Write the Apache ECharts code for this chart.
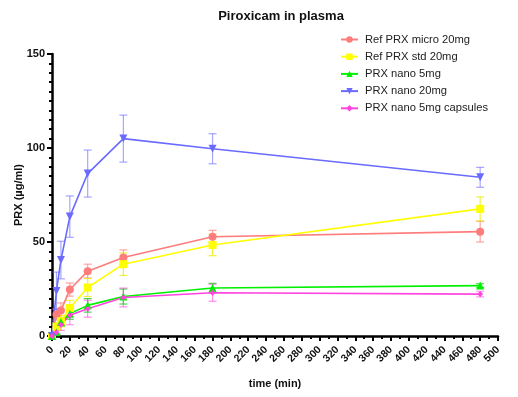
<!DOCTYPE html>
<html><head><meta charset="utf-8">
<script src="https://cdn.jsdelivr.net/npm/echarts@6/dist/echarts.min.js"></script>
<style>html,body{margin:0;padding:0;background:#fff}#c{width:518px;height:397px}</style>
</head><body><div id="c"></div>
<script>
var time = [0, 5, 10, 20, 40, 80, 180, 480];
var seriesNames = ['Ref PRX micro 20mg', 'Ref PRX std 20mg', 'PRX nano 5mg', 'PRX nano 20mg', 'PRX nano 5mg capsules'];
var microMean = [0, 11.5, 13.6, 24.7, 34.5, 41.8, 52.8, 55.5];
var microSd   = [0, 3, 4, 3.5, 3.7, 4, 3.4, 5.5];
var stdMean   = [0, 5, 7.9, 14.9, 25.8, 38.2, 48.4, 67.6];
var stdSd     = [0, 2, 3, 4, 4.8, 6, 5.7, 6.4];
var nano5Mean = [0, 2, 7.4, 11.9, 16.3, 21, 25.5, 26.8];
var nano5Sd   = [0, 1, 2, 3, 3.6, 4, 2.5, 1];
var nano20Mean = [0, 24, 40.4, 63.5, 86.4, 105, 99.6, 84.4];
var nano20Sd   = [0, 10, 10, 11, 12.5, 12.5, 8, 5.3];
var capsMean  = [0, 2, 6, 11, 14.5, 20.5, 23, 22.3];
var capsSd    = [0, 1, 3, 5, 4.5, 5, 4.5, 1.5];

var means = [microMean, stdMean, nano5Mean, nano20Mean, capsMean];
var sds = [microSd, stdSd, nano5Sd, nano20Sd, capsSd];
var colors = ['#FF7C7C', '#FFFF00', '#00F000', '#6A6AFF', '#FF44E0'];
var errColors = ['rgba(255,124,124,0.7)', 'rgba(235,235,0,0.75)', 'rgba(0,200,0,0.7)', 'rgba(106,106,255,0.6)', 'rgba(255,68,224,0.6)'];
var symbols = ['circle', 'rect', 'triangle', 'triangle', 'diamond'];
var symRot = [0, 0, 0, 180, 0];
var symSizes = [8, 8, 8, 8, 6];

var font = 'Liberation Sans, Arial, sans-serif';
var series = [];
for (var i = 0; i < 5; i++) {
  (function (i) {
    var data = time.map(function (t, k) { return [t, means[i][k], sds[i][k]]; });
    series.push({
      type: 'custom', name: 'err' + i, z: 2,
      renderItem: function (params, api) {
        var x = api.value(0), m = api.value(1), s = api.value(2);
        if (!s) return null;
        var top = api.coord([x, m + s]), bot = api.coord([x, m - s]);
        var w = 4;
        var st = { stroke: errColors[i], lineWidth: 1.2 };
        return { type: 'group', children: [
          { type: 'line', shape: { x1: top[0], y1: top[1], x2: bot[0], y2: bot[1] }, style: st },
          { type: 'line', shape: { x1: top[0] - w, y1: top[1], x2: top[0] + w, y2: top[1] }, style: st },
          { type: 'line', shape: { x1: bot[0] - w, y1: bot[1], x2: bot[0] + w, y2: bot[1] }, style: st }
        ]};
      },
      encode: { x: 0, y: 1 },
      data: data, silent: true
    });
  })(i);
}
for (var j = 0; j < 5; j++) {
  series.push({
    type: 'line', name: seriesNames[j], z: 3,
    data: time.map(function (t, k) { return [t, means[j][k]]; }),
    symbol: symbols[j], symbolRotate: symRot[j], symbolSize: symSizes[j],
    showAllSymbol: true,
    lineStyle: { color: colors[j], width: 1.6 },
    itemStyle: { color: colors[j], opacity: 1 },
    emphasis: { disabled: true }
  });
}

var chart = echarts.init(document.getElementById('c'), null, { renderer: 'canvas' });
chart.setOption({
  animation: false,
  backgroundColor: '#fff',
  title: { text: 'Piroxicam in plasma', left: 276, textAlign: 'center', top: 5,
    textStyle: { fontFamily: font, fontSize: 13, fontWeight: 'bold', color: '#111' } },
  legend: {
    data: seriesNames, orient: 'vertical', left: 335, top: 29, itemGap: 6.2,
    itemWidth: 17, itemHeight: 8,
    textStyle: { fontFamily: font, fontSize: 11.2, color: '#222', padding: [0, 0, 0, 2] }
  },
  grid: { left: 52, right: 20, top: 54, bottom: 61, containLabel: false },
  xAxis: {
    type: 'value', min: 0, max: 500, interval: 20,
    name: 'time (min)', nameLocation: 'middle', nameGap: 42, nameMoveOverlap: false,
    nameTextStyle: { fontFamily: font, fontSize: 11, fontWeight: 'bold', color: '#111' },
    axisLine: { onZero: false, lineStyle: { color: '#000', width: 2.5 } },
    axisTick: { show: true, length: 5, lineStyle: { color: '#000', width: 2 } },
    minorTick: { show: true, splitNumber: 2, length: 3, lineStyle: { color: '#000', width: 2 } },
    axisLabel: { rotate: 45, fontFamily: font, fontSize: 10.5, fontWeight: 'bold', color: '#111', margin: 12 },
    splitLine: { show: false }
  },
  yAxis: {
    type: 'value', min: 0, max: 150, interval: 50,
    name: 'PRX (µg/ml)', nameLocation: 'middle', nameGap: 28, nameMoveOverlap: false,
    nameTextStyle: { fontFamily: font, fontSize: 11, fontWeight: 'bold', color: '#111' },
    axisLine: { show: true, onZero: false, lineStyle: { color: '#000', width: 2.5 } },
    axisTick: { show: true, length: 5, lineStyle: { color: '#000', width: 2 } },
    minorTick: { show: true, splitNumber: 10, length: 3, lineStyle: { color: '#000', width: 2 } },
    axisLabel: { fontFamily: font, fontSize: 11, fontWeight: 'bold', color: '#111', margin: 7 },
    splitLine: { show: false }
  },
  series: series
});
</script></body></html>
